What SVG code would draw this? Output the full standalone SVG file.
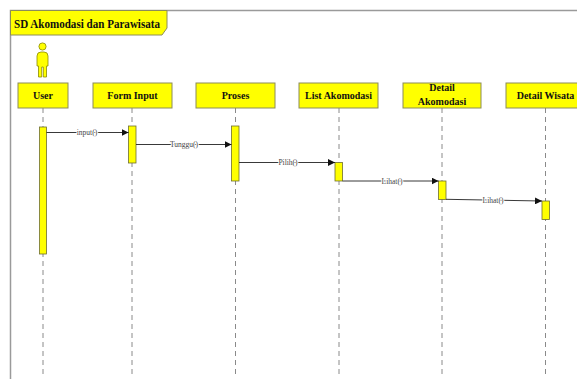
<svg xmlns="http://www.w3.org/2000/svg" width="577" height="379" viewBox="0 0 577 379">
<style>
.hdr{fill:#ffff00;stroke:#8c8c5a;stroke-width:1}
.act{fill:#ffff00;stroke:#6e6e30;stroke-width:0.8}
.life{stroke:#8a8a8a;stroke-width:1;stroke-dasharray:5,4;fill:none}
.msg{stroke:#222;stroke-width:0.9;fill:none;marker-end:url(#arr)}
.ht{font-family:"Liberation Serif",serif;font-weight:bold;font-size:10px;fill:#111;text-anchor:middle}
.ml{font-family:"Liberation Serif",serif;font-size:7.5px;fill:#444;text-anchor:middle;paint-order:stroke;stroke:#fff;stroke-width:2px}
</style>
<defs>
<marker id="arr" viewBox="0 0 8 8" refX="8" refY="4" markerWidth="7" markerHeight="7" markerUnits="userSpaceOnUse" orient="auto">
<path d="M0,0 L8,4 L0,8 Z" fill="#111"/>
</marker>
</defs>
<rect width="577" height="379" fill="#fff"/>
<g id="frame">
<path d="M10.5,379 L10.5,10.5 L577,10.5" fill="none" stroke="#9a9a9a" stroke-width="1.5"/>
<path d="M10.5,10.5 L167,10.5 L167,28 L162,35 L10.5,35 Z" fill="#ffff00" stroke="#8c8c5a" stroke-width="1"/>
<text x="14" y="28" font-family="Liberation Serif, serif" font-weight="bold" font-size="12.5" fill="#111" textLength="146" lengthAdjust="spacingAndGlyphs">SD Akomodasi dan Parawisata</text>
</g>
<g id="lifelines">
<line class="life" x1="43" y1="108" x2="43" y2="375"/>
<line class="life" x1="132" y1="108" x2="132" y2="375"/>
<line class="life" x1="235.5" y1="108" x2="235.5" y2="375"/>
<line class="life" x1="339" y1="108" x2="339" y2="375"/>
<line class="life" x1="442" y1="108" x2="442" y2="375"/>
<line class="life" x1="545.5" y1="108" x2="545.5" y2="375"/>
</g>
<g id="user">
<circle cx="42.5" cy="46.5" r="3.6" fill="#ffff00" stroke="#8a8a00" stroke-width="0.8"/>
<path d="M37,56 Q37,52 41,52 L44,52 Q48,52 48,56 L48,66 L46.5,66 L46.5,77 L43.3,77 L43.3,67 L41.7,67 L41.7,77 L38.5,77 L38.5,66 L37,66 Z" fill="#ffff00" stroke="#8a8a00" stroke-width="0.8"/>
<rect class="hdr" x="18" y="83" width="50" height="25"/>
<text class="ht" x="43" y="99">User</text>
<rect class="act" x="39.5" y="127" width="7" height="127"/>
</g>
<g id="form-input">
<rect class="hdr" x="93" y="83" width="79" height="25"/>
<text class="ht" x="132.5" y="99">Form Input</text>
<rect class="act" x="128.5" y="126" width="7.5" height="37"/>
</g>
<g id="proses">
<rect class="hdr" x="196" y="83" width="79" height="25"/>
<text class="ht" x="235.5" y="99">Proses</text>
<rect class="act" x="231.5" y="126" width="7.5" height="55"/>
</g>
<g id="list-akomodasi">
<rect class="hdr" x="299" y="83" width="79" height="25"/>
<text class="ht" x="338.5" y="99">List Akomodasi</text>
<rect class="act" x="335" y="162.5" width="7.5" height="18.5"/>
</g>
<g id="detail-akomodasi">
<rect class="hdr" x="403" y="83" width="78" height="25"/>
<text class="ht" x="442" y="91">Detail</text>
<text class="ht" x="442" y="105">Akomodasi</text>
<rect class="act" x="438.5" y="181" width="7.5" height="18.5"/>
</g>
<g id="detail-wisata">
<rect class="hdr" x="506" y="83" width="79" height="25"/>
<text class="ht" x="545.5" y="99">Detail Wisata</text>
<rect class="act" x="542" y="201" width="7.5" height="18.5"/>
</g>
<g id="connectors">
<line class="msg" x1="46.5" y1="132.5" x2="128.5" y2="132.5"/>
<text class="ml" x="87" y="135">input()</text>
<line class="msg" x1="136" y1="144.5" x2="231.5" y2="144.5"/>
<text class="ml" x="184" y="147">Tunggu()</text>
<line class="msg" x1="239" y1="162.5" x2="335" y2="162.5"/>
<text class="ml" x="288" y="165">Pilih()</text>
<line class="msg" x1="342.5" y1="181" x2="438.5" y2="181"/>
<text class="ml" x="392" y="183.5">Lihat()</text>
<line class="msg" x1="446" y1="199.3" x2="542" y2="201"/>
<text class="ml" x="493" y="202.5">Lihat()</text>
</g>
</svg>
